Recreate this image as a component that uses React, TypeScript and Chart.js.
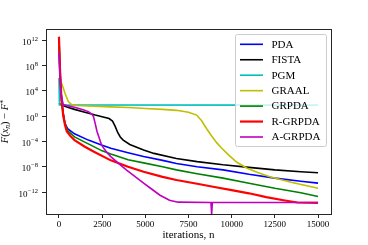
import React, { useEffect, useRef } from "react";
import { Chart, registerables } from "chart.js";

Chart.register(...registerables);

// ---- data ----
const xTicks = [0, 2500, 5000, 7500, 10000, 12500, 15000];
const yTickValues = [1e12, 1e8, 1e4, 1, 1e-4, 1e-8, 1e-12];
const xLabel = "iterations, n";

const seriesNames = ["PDA", "FISTA", "PGM", "GRAAL", "GRPDA", "R-GRPDA", "A-GRPDA"];
const seriesColors = ["#0000ff", "#000000", "#00bfbf", "#bfbf00", "#008000", "#ff0000", "#bf00bf"];
const seriesWidths = [1.6, 1.6, 1.6, 1.6, 1.6, 2.2, 1.6];

const pdaIters = [0, 50, 100, 150, 250, 350, 500, 900, 1700, 2500, 3000, 4000, 4900, 6000, 6800, 8000, 9500, 11000, 12500, 14000, 15000];
const pdaValues = [3.16e12, 1e8, 1e5, 398, 2.51, 7.08e-2, 1e-2, 1.58e-3, 1.58e-4, 2.51e-5, 7.94e-6, 1.58e-6, 3.98e-7, 1e-7, 3.16e-8, 1e-8, 3.16e-9, 6.31e-10, 1.58e-10, 5.01e-11, 2.51e-11];

const fistaIters = [0, 150, 500, 900, 1500, 2100, 2500, 2900, 3100, 3250, 3400, 3550, 3720, 4100, 4900, 5500, 6800, 8000, 9500, 11000, 12500, 14000, 15000];
const fistaValues = [100, 56.2, 25.1, 11.2, 3.98, 1.41, 0.794, 0.398, 0.158, 2.51e-2, 2.51e-3, 5.01e-4, 1.58e-4, 3.16e-5, 4.47e-6, 1.26e-6, 2e-7, 6.31e-8, 2e-8, 7.94e-9, 3.16e-9, 1.58e-9, 1.12e-9];

const pgmIters = [0, 30, 15000];
const pgmValues = [1e6, 55, 52.5];

const graalIters = [0, 150, 350, 540, 730, 1000, 2000, 3000, 4000, 5000, 6000, 6800, 7500, 7970, 8250, 8550, 8850, 9130, 9400, 9800, 10300, 10870, 11500, 12200, 13500, 15000];
const graalValues = [1e6, 1.58e5, 3.98e3, 200, 63.1, 44.7, 35.5, 28.2, 22.4, 15.8, 11.2, 7.94, 3.98, 1.41, 0.2, 1e-2, 6.31e-4, 6.31e-5, 1e-5, 7.94e-7, 5.01e-8, 6.31e-9, 1.26e-9, 2.51e-10, 3.16e-11, 3.98e-12];

const grpdaIters = [0, 50, 100, 150, 250, 350, 500, 900, 1700, 2500, 3000, 4000, 4900, 6000, 6800, 8000, 9500, 11000, 12500, 14000, 15000];
const grpdaValues = [3.16e12, 1e8, 1e5, 316, 1.58, 6.31e-2, 5.01e-3, 5.01e-4, 3.98e-5, 3.16e-6, 1e-6, 1.26e-7, 3.98e-8, 1e-8, 3.16e-9, 7.94e-10, 1.58e-10, 2.51e-11, 3.98e-12, 7.94e-13, 2e-13];

const rgrpdaIters = [0, 50, 100, 150, 250, 350, 450, 650, 900, 1500, 2000, 3000, 4000, 4900, 6000, 6800, 8000, 9000, 10000, 11000, 12000, 13000, 13800, 15000];
const rgrpdaValues = [3.16e12, 1e8, 1e5, 316, 1, 3.98e-2, 3.98e-3, 7.94e-4, 1.58e-4, 1.41e-5, 2.51e-6, 1e-7, 1e-8, 1.58e-9, 2.51e-10, 7.94e-11, 2e-11, 6.31e-12, 2e-12, 6.31e-13, 1.58e-13, 5.01e-14, 2.24e-14, 2e-14];

const agrpdaIters = [0, 50, 100, 150, 250, 500, 900, 1400, 1700, 1900, 2000, 2100, 2200, 2470, 2760, 3000, 3500, 3900, 4900, 5300, 5850, 6400, 6900, 8800, 8840, 8880, 15000];
const agrpdaValues = [7.94e9, 3.16e6, 1.58e4, 1e3, 63.1, 39.8, 25.1, 10, 5.01, 2, 0.794, 6.31e-2, 3.98e-3, 2.51e-5, 2e-6, 3.98e-7, 2.51e-8, 3.16e-9, 2.51e-11, 3.98e-12, 3.16e-13, 5.01e-14, 2.51e-14, 2.24e-14, 3e-16, 2.24e-14, 2.24e-14];

const seriesIters = [pdaIters, fistaIters, pgmIters, graalIters, grpdaIters, rgrpdaIters, agrpdaIters];
const seriesValues = [pdaValues, fistaValues, pgmValues, graalValues, grpdaValues, rgrpdaValues, agrpdaValues];

const SERIF = '"Liberation Serif", "Times New Roman", serif';

function supText(e: number): string {
  return e < 0 ? "\u2212" + Math.abs(e) : String(e);
}

const decorPlugin = {
  id: "decor",
  afterDraw(chart: any) {
    const ctx: CanvasRenderingContext2D = chart.ctx;
    const a = chart.chartArea;
    ctx.save();

    // axes frame
    ctx.strokeStyle = "#262626";
    ctx.lineWidth = 1;
    ctx.strokeRect(a.left + 0.5, a.top + 0.5, a.right - a.left, a.bottom - a.top);

    // y tick labels 10^k
    const yScale = chart.scales.y;
    ctx.fillStyle = "#000";
    ctx.textAlign = "right";
    ctx.textBaseline = "alphabetic";
    const labelRight = a.left - 8;
    for (const v of yTickValues) {
      const y = yScale.getPixelForValue(v);
      const e = Math.round(Math.log10(v));
      ctx.font = `6.5px ${SERIF}`;
      const ex = supText(e);
      const ew = ctx.measureText(ex).width;
      ctx.fillText(ex, labelRight, y + 0.5);
      ctx.font = `9px ${SERIF}`;
      ctx.fillText("10", labelRight - ew - 0.3, y + 4.5);
    }

    // x axis title
    ctx.textAlign = "center";
    ctx.font = `11px ${SERIF}`;
    ctx.fillText(xLabel, (a.left + a.right) / 2, 237.5);

    // y axis title F(x_n) - F*
    const segs = [
      { t: "F", st: "italic", sz: 10.5, dy: 0 },
      { t: "(", st: "normal", sz: 10.5, dy: 0 },
      { t: "x", st: "italic", sz: 10.5, dy: 0 },
      { t: "n", st: "italic", sz: 7.5, dy: 2.2 },
      { t: ")", st: "normal", sz: 10.5, dy: 0 },
      { t: " \u2212 ", st: "normal", sz: 10.5, dy: 0 },
      { t: "F", st: "italic", sz: 10.5, dy: 0 },
      { t: "*", st: "normal", sz: 8, dy: -2.5 },
    ];
    let total = 0;
    const widths: number[] = [];
    for (const s of segs) {
      ctx.font = `${s.st} ${s.sz}px ${SERIF}`;
      const w = ctx.measureText(s.t).width;
      widths.push(w);
      total += w;
    }
    ctx.save();
    ctx.translate(8, (a.top + a.bottom) / 2);
    ctx.rotate(-Math.PI / 2);
    ctx.textAlign = "left";
    let cx = -total / 2;
    segs.forEach((s, i) => {
      ctx.font = `${s.st} ${s.sz}px ${SERIF}`;
      ctx.fillText(s.t, cx, s.dy);
      cx += widths[i];
    });
    ctx.restore();

    // legend (upper right, inside axes)
    const lx = 235.5, ly = 34.5, lw = 91, lh = 112;
    ctx.beginPath();
    const r = 2;
    ctx.moveTo(lx + r, ly);
    ctx.lineTo(lx + lw - r, ly);
    ctx.quadraticCurveTo(lx + lw, ly, lx + lw, ly + r);
    ctx.lineTo(lx + lw, ly + lh - r);
    ctx.quadraticCurveTo(lx + lw, ly + lh, lx + lw - r, ly + lh);
    ctx.lineTo(lx + r, ly + lh);
    ctx.quadraticCurveTo(lx, ly + lh, lx, ly + lh - r);
    ctx.lineTo(lx, ly + r);
    ctx.quadraticCurveTo(lx, ly, lx + r, ly);
    ctx.closePath();
    ctx.fillStyle = "rgba(255,255,255,0.8)";
    ctx.fill();
    ctx.strokeStyle = "#cccccc";
    ctx.lineWidth = 1;
    ctx.stroke();

    ctx.font = `11px ${SERIF}`;
    ctx.textAlign = "left";
    ctx.textBaseline = "middle";
    chart.data.datasets.forEach((ds: any, i: number) => {
      const y = 44.3 + i * 15.45;
      ctx.strokeStyle = ds.borderColor;
      ctx.lineWidth = ds.borderWidth;
      ctx.beginPath();
      ctx.moveTo(240, y);
      ctx.lineTo(263, y);
      ctx.stroke();
      ctx.fillStyle = "#000";
      ctx.fillText(ds.label, 271.5, y + 0.5);
    });

    ctx.restore();
  },
};

export default function App() {
  const ref = useRef<HTMLCanvasElement>(null);

  useEffect(() => {
    const canvas = ref.current;
    if (!canvas) return;
    const n = seriesNames.length;
    const chart = new Chart(canvas, {
      type: "line",
      data: {
        datasets: seriesNames.map((name, i) => ({
          label: name,
          data: seriesIters[i].map((x, k) => ({ x, y: seriesValues[i][k] })),
          borderColor: seriesColors[i],
          backgroundColor: seriesColors[i],
          borderWidth: seriesWidths[i],
          pointRadius: 0,
          tension: 0,
          fill: false,
          order: n - i,
        })),
      },
      options: {
        responsive: false,
        animation: false,
        events: [],
        layout: { padding: { left: 0, right: 37, top: 29, bottom: 0 } },
        plugins: {
          legend: { display: false },
          tooltip: { enabled: false },
          title: { display: false },
        },
        scales: {
          x: {
            type: "linear",
            min: -750,
            max: 15750,
            afterBuildTicks: (s: any) => {
              s.ticks = xTicks.map((v) => ({ value: v }));
            },
            afterFit: (s: any) => {
              s.height = 31;
            },
            ticks: {
              color: "#000",
              font: { family: SERIF, size: 9 },
              padding: 1,
              maxRotation: 0,
              autoSkip: false,
              callback: (v: any) => String(v),
            },
            grid: { drawOnChartArea: false, tickLength: 4, color: "#262626" },
            border: { display: false },
          },
          y: {
            type: "logarithmic",
            min: 3.4e-16,
            max: 5.5e13,
            afterBuildTicks: (s: any) => {
              s.ticks = yTickValues.map((v) => ({ value: v }));
            },
            afterFit: (s: any) => {
              s.width = 46;
            },
            ticks: { display: false },
            grid: { drawOnChartArea: false, tickLength: 4, color: "#262626" },
            border: { display: false },
          },
        },
      } as any,
      plugins: [decorPlugin],
    });
    return () => chart.destroy();
  }, []);

  return (
    <div style={{ position: "fixed", left: 0, top: 0, width: 368, height: 245, background: "#fff" }}>
      <canvas ref={ref} width={368} height={245} style={{ display: "block", width: 368, height: 245 }} />
    </div>
  );
}
